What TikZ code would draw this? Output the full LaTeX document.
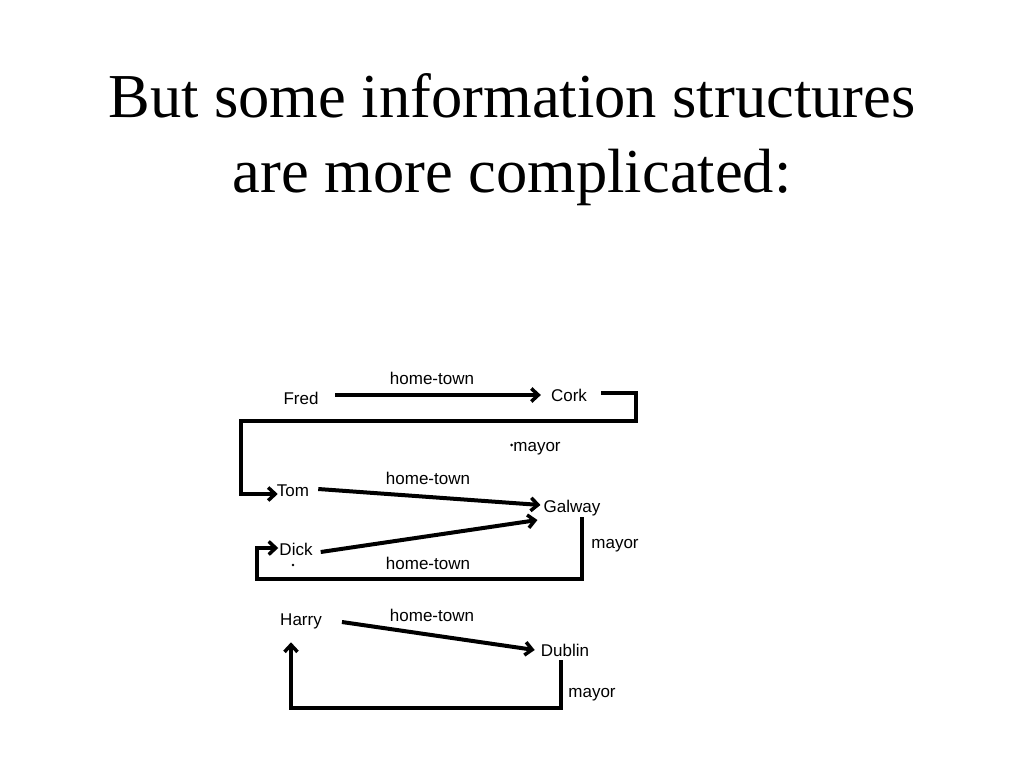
\documentclass[tikz,border=0pt]{standalone}
\usepackage{fontspec}
\setmainfont{Liberation Serif}
\newfontfamily\labfont{Liberation Sans}
\usetikzlibrary{arrows.meta}
\begin{document}
\begin{tikzpicture}[x=1pt,y=-1pt,
  lbl/.style={font=\labfont\fontsize{17}{19}\selectfont, inner sep=0pt, text height=12.2pt, text depth=0pt, anchor=center},
  ttl/.style={font=\fontsize{62.5}{75}\selectfont, inner sep=0pt, anchor=base},
  conn/.style={line width=4pt, line join=miter},
  arr/.style={conn, -{Straight Barb[length=7pt,width=13pt,line width=3.5pt]}},
]
\useasboundingbox[fill=white] (0,0) rectangle (1024,768);
% title
\node[ttl] (title1) at (512,117) {But some information structures};
\node[ttl] (title2) at (512,192) {are more complicated:};
% nodes
\node[lbl] (fred) at (301,398) {Fred};
\node[lbl] (cork) at (569,395) {Cork};
\node[lbl] (tom) at (293,490) {Tom};
\node[lbl] (galway) at (572,506) {Galway};
\node[lbl] (dick) at (296,549) {Dick};
\node[lbl] (harry) at (301,619) {Harry};
\node[lbl] (dublin) at (565,650) {Dublin};
% edge labels
\node[lbl] (ht1) at (432,378) {home-town};
\node[lbl] (ht2) at (428,478) {home-town};
\node[lbl] (ht3) at (428,563) {home-town};
\node[lbl] (ht4) at (432,615) {home-town};
\node[lbl] (m1) at (537,445) {mayor};
\node[lbl] (m2) at (615,542) {mayor};
\node[lbl] (m3) at (592,691) {mayor};
% small marks
\fill ([xshift=-1.5pt]m1.west) circle (1.5);
\fill (293,565) circle (1.3);
% connectors
\draw[arr] ([shift={(16.5,-3)}]fred.east) -- ([shift={(-10,0)}]cork.west);
\draw[arr] ([shift={(14,-2)}]cork.east) -- (636,393) -- (636,421) -- (241,421) -- (241,494) -- ([shift={(1,4)}]tom.west);
\draw[arr] ([shift={(9,-1)}]tom.east) -- ([shift={(-3,-1)}]galway.west);
\draw[arr] ([shift={(8,3)}]dick.east) -- ([shift={(-6,14)}]galway.west);
\draw[arr] ([shift={(10,5)}]galway.south) -- (582,579) -- (257,579) -- (257,548) -- ([shift={(-1,-1)}]dick.west);
\draw[arr] ([shift={(20,3)}]harry.east) -- ([shift={(-6,0)}]dublin.west);
\draw[arr] ([shift={(-4,4)}]dublin.south) -- (561,708) -- (291,708) -- ([shift={(-10,17)}]harry.south);
\end{tikzpicture}
\end{document}
